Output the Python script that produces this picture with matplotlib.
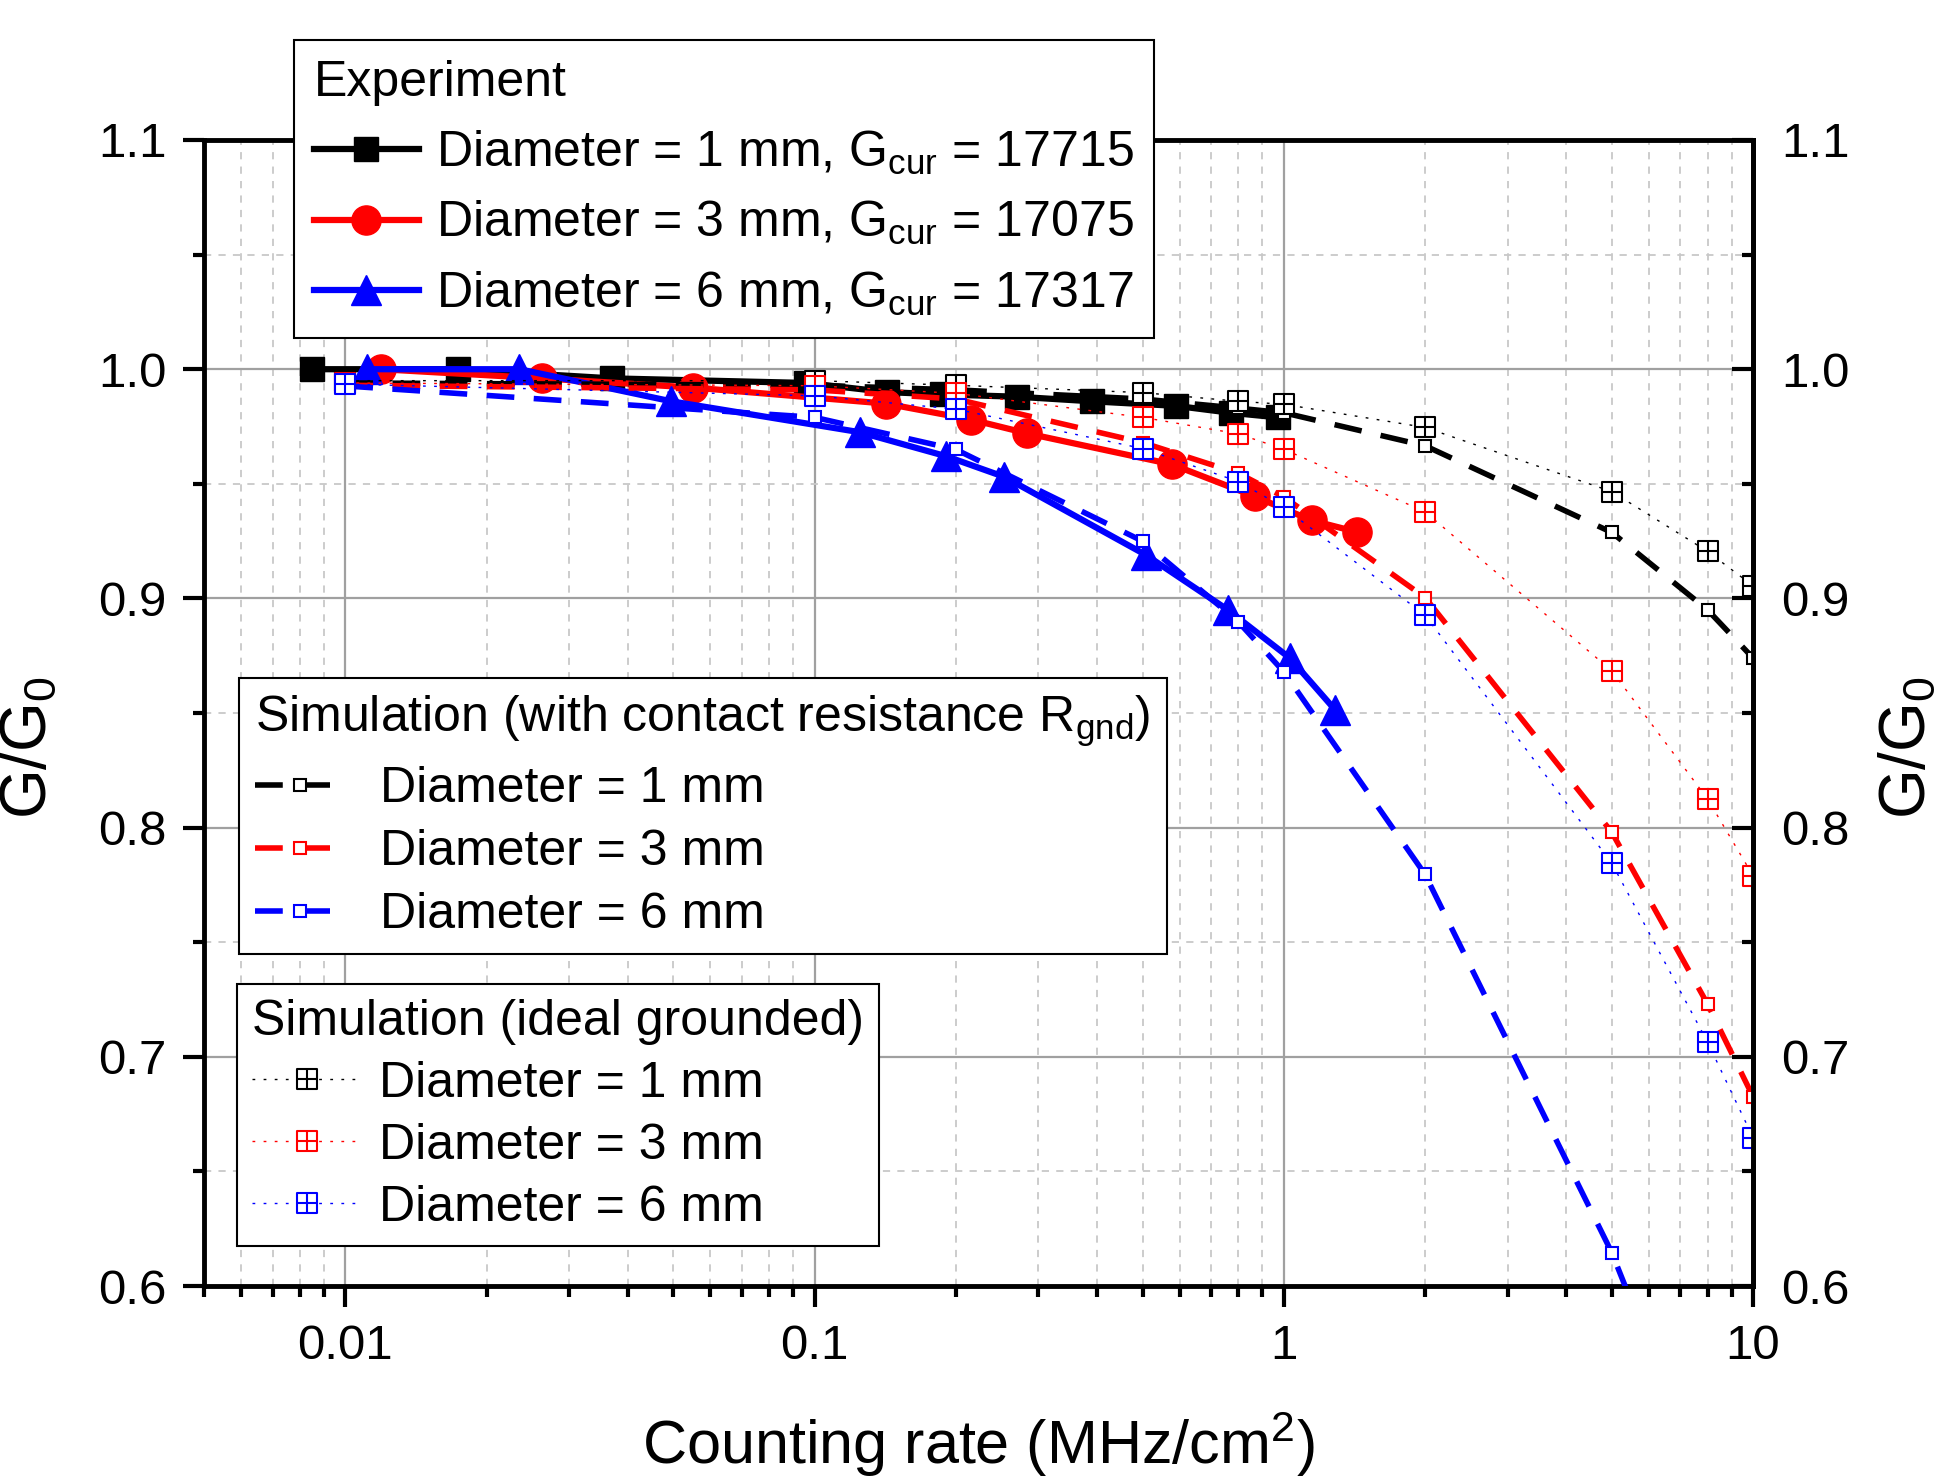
import numpy as np
import matplotlib
matplotlib.use("Agg")
import matplotlib.pyplot as plt
from matplotlib.path import Path
from matplotlib.ticker import FixedLocator, LogLocator, MultipleLocator, NullFormatter, FuncFormatter

plt.rcParams['font.family'] = ['Liberation Sans', 'DejaVu Sans']
plt.rcParams['mathtext.default'] = 'regular'

# Experiment (counting rate in MHz/cm2, G/G0)
exp_1mm_x = [0.0085, 0.0174, 0.037, 0.096, 0.143, 0.187, 0.27, 0.39, 0.59, 0.77, 0.97]
exp_1mm_y = [1.0, 1.0, 0.996, 0.994, 0.990, 0.989, 0.988, 0.986, 0.984, 0.981, 0.979]
exp_3mm_x = [0.0119, 0.0263, 0.055, 0.142, 0.216, 0.284, 0.577, 0.867, 1.148, 1.43]
exp_3mm_y = [1.0, 0.996, 0.992, 0.985, 0.978, 0.972, 0.9585, 0.9445, 0.934, 0.929]
exp_6mm_x = [0.0111, 0.0235, 0.0495, 0.125, 0.191, 0.254, 0.508, 0.76, 1.03, 1.285]
exp_6mm_y = [1.0, 1.0, 0.986, 0.9725, 0.962, 0.953, 0.919, 0.895, 0.874, 0.8515]

# Simulation, same rate points for all curves
sim_x = [0.01, 0.1, 0.2, 0.5, 0.8, 1, 2, 5, 8, 10]
# with contact resistance R_gnd
rgnd_1mm = [0.994, 0.993, 0.991, 0.987, 0.983, 0.981, 0.9666, 0.9288, 0.895, 0.874]
rgnd_3mm = [0.993, 0.991, 0.987, 0.968, 0.9546, 0.9443, 0.9004, 0.798, 0.723, 0.6826]
rgnd_6mm = [0.9927, 0.979, 0.965, 0.925, 0.8898, 0.868, 0.7796, 0.6146, 0.51, 0.45]
# ideal grounded
ideal_1mm = [0.995, 0.995, 0.993, 0.9898, 0.986, 0.9847, 0.9746, 0.9466, 0.9205, 0.9055]
ideal_3mm = [0.994, 0.9928, 0.9895, 0.979, 0.9718, 0.9651, 0.9378, 0.8684, 0.8125, 0.779]
ideal_6mm = [0.9935, 0.9884, 0.9826, 0.9654, 0.951, 0.9397, 0.8927, 0.7845, 0.7064, 0.6648]

exp_labels = [r'Diameter = 1 mm, G$_{cur}$ = 17715',
              r'Diameter = 3 mm, G$_{cur}$ = 17075',
              r'Diameter = 6 mm, G$_{cur}$ = 17317']
sim_labels = ['Diameter = 1 mm', 'Diameter = 3 mm', 'Diameter = 6 mm']
colors = ['black', 'red', 'blue']

# square with a cross inside
grid_sq = Path([(-1, -1), (1, -1), (1, 1), (-1, 1), (-1, -1), (0, -1), (0, 1), (-1, 0), (1, 0)],
               [Path.MOVETO, Path.LINETO, Path.LINETO, Path.LINETO, Path.CLOSEPOLY,
                Path.MOVETO, Path.LINETO, Path.MOVETO, Path.LINETO])

fig = plt.figure(figsize=(19.39, 14.83), dpi=100)
ax = fig.add_axes([0.1052, 0.1328, 0.7989, 0.7728])

exp_h = []
for xs, ys, c, m, ms in [(exp_1mm_x, exp_1mm_y, 'black', 's', 17),
                         (exp_3mm_x, exp_3mm_y, 'red', 'o', 21),
                         (exp_6mm_x, exp_6mm_y, 'blue', '^', 22)]:
    h, = ax.plot(xs, ys, color=c, lw=4.5, marker=m, ms=ms, zorder=3)
    exp_h.append(h)

rgnd_h = []
for ys, c in zip([rgnd_1mm, rgnd_3mm, rgnd_6mm], colors):
    h, = ax.plot(sim_x, ys, color=c, lw=4, dashes=(5, 3.5), marker='s', ms=8,
                 mfc='white', mec=c, mew=1.5, zorder=3)
    rgnd_h.append(h)

ideal_h = []
for ys, c in zip([ideal_1mm, ideal_3mm, ideal_6mm], colors):
    h, = ax.plot(sim_x, ys, color=c, lw=1.0, ls=(0, (2, 6)), marker=grid_sq, ms=15,
                 mfc='white', mec=c, mew=1.5, zorder=3)
    ideal_h.append(h)

ax.set_xscale('log')
ax.set_xlim(0.005, 10)
ax.set_ylim(0.6, 1.1)
ax.xaxis.set_major_locator(FixedLocator([0.01, 0.1, 1, 10]))
ax.xaxis.set_major_formatter(FuncFormatter(lambda v, p: '%g' % v))
ax.xaxis.set_minor_locator(LogLocator(base=10, subs=np.arange(2, 10)))
ax.xaxis.set_minor_formatter(NullFormatter())
ax.yaxis.set_major_locator(MultipleLocator(0.1))
ax.yaxis.set_minor_locator(MultipleLocator(0.05))
ax.yaxis.set_major_formatter(FuncFormatter(lambda v, p: '%.1f' % v))

ax.grid(which='major', color='#a0a0a0', lw=1.6, ls='-')
ax.grid(which='minor', color='#c8c8c8', lw=1.3, ls=(0, (4, 4)))
ax.set_axisbelow(True)

ax.tick_params(which='major', direction='out', length=15, width=3, labelsize=35.5, pad=12)
ax.tick_params(which='minor', direction='out', length=8, width=3)
for s in ax.spines.values():
    s.set_linewidth(3.5)

ax.set_xlabel('Counting rate (MHz/cm$^2$)', fontsize=44)
ax.set_ylabel('G/G$_0$', fontsize=46)
ax.xaxis.set_label_coords(0.5, -0.138)
ax.xaxis.label.set_va('center')
ax.yaxis.set_label_coords(-0.113, 0.47)
ax.yaxis.label.set_va('center')

ax2 = ax.twinx()
ax2.set_ylim(0.6, 1.1)
ax2.yaxis.set_major_locator(MultipleLocator(0.1))
ax2.yaxis.set_minor_locator(MultipleLocator(0.05))
ax2.yaxis.set_major_formatter(FuncFormatter(lambda v, p: '%.1f' % v))
ax2.tick_params(which='major', direction='in', length=15, width=3, labelsize=35.5, pad=20)
ax2.tick_params(which='minor', direction='in', length=8, width=3)
for k in ['top', 'bottom', 'left']:
    ax2.spines[k].set_visible(False)
ax2.spines['right'].set_linewidth(3.5)
ax2.set_ylabel('G/G$_0$', fontsize=46)
ax2.yaxis.set_label_coords(1.100, 0.47)
ax2.yaxis.label.set_va('center')

leg_kw = dict(loc='upper left', bbox_transform=fig.transFigure, fontsize=36,
              title_fontsize=36, frameon=True, fancybox=False, edgecolor='black',
              framealpha=1, borderaxespad=0, alignment='left', numpoints=1)

leg1 = ax2.legend(exp_h, exp_labels, title='Experiment', bbox_to_anchor=(0.1516, 0.973),
                  handlelength=2.1, handletextpad=0.35, labelspacing=0.45, borderpad=0.4, **leg_kw)
leg1.get_frame().set_linewidth(1.5)
ax2.add_artist(leg1)

leg2 = ax2.legend(rgnd_h, sim_labels, title=r'Simulation (with contact resistance R$_{gnd}$)',
                  bbox_to_anchor=(0.1233, 0.5428), handlelength=1.8, handletextpad=0.7,
                  labelspacing=0.34, borderpad=0.32, **leg_kw)
leg2.get_frame().set_linewidth(1.5)
ax2.add_artist(leg2)

leg3 = ax2.legend(ideal_h, sim_labels, title='Simulation (ideal grounded)',
                  bbox_to_anchor=(0.1222, 0.3365), handlelength=2.2, handletextpad=0.35,
                  labelspacing=0.32, borderpad=0.3, **leg_kw)
leg3.get_frame().set_linewidth(1.5)

fig.savefig('out.png', dpi=100)
